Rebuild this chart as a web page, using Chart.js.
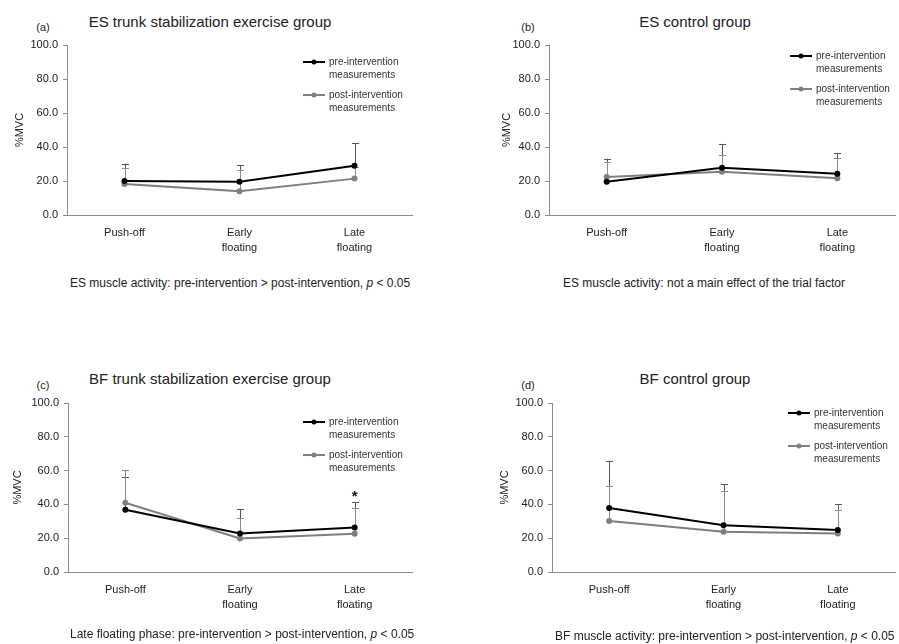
<!DOCTYPE html>
<html>
<head>
<meta charset="utf-8">
<script src="https://cdn.jsdelivr.net/npm/chart.js@4.4.1/dist/chart.umd.min.js"></script>
<style>
  body { margin: 0; background: #fff; font-family: "Liberation Sans", Arial, sans-serif; color: #222; }
  #page { position: relative; width: 899px; height: 644px; overflow: hidden; }
  canvas { position: absolute; }
  .title { position: absolute; font-size: 15px; white-space: nowrap; transform: translate(-50%, -50%); }
  .tag { position: absolute; font-size: 11px; transform: translate(-50%, -50%); }
  .note { position: absolute; font-size: 12px; white-space: nowrap; transform: translateY(-50%); }
</style>
</head>
<body>
<div id="page">
  <div class="tag" style="left:43px;top:27px">(a)</div>
  <div class="title" style="left:210px;top:21px">ES trunk stabilization exercise group</div>
  <div class="tag" style="left:528px;top:27px">(b)</div>
  <div class="title" style="left:695px;top:21px">ES control group</div>
  <div class="tag" style="left:43px;top:385px">(c)</div>
  <div class="title" style="left:210px;top:378px">BF trunk stabilization exercise group</div>
  <div class="tag" style="left:528px;top:385px">(d)</div>
  <div class="title" style="left:695px;top:378px">BF control group</div>

  <canvas id="es-ex" width="450" height="270" style="left:0;top:0"></canvas>
  <canvas id="es-ctl" width="449" height="270" style="left:450px;top:0"></canvas>
  <canvas id="bf-ex" width="450" height="270" style="left:0;top:358px"></canvas>
  <canvas id="bf-ctl" width="449" height="270" style="left:450px;top:358px"></canvas>

  <div class="note" style="left:70px;top:283px">ES muscle activity: pre-intervention &gt; post-intervention, <i>p</i> &lt; 0.05</div>
  <div class="note" style="left:563px;top:283px">ES muscle activity: not a main effect of the trial factor</div>
  <div class="note" style="left:70px;top:634px">Late floating phase: pre-intervention &gt; post-intervention, <i>p</i> &lt; 0.05</div>
  <div class="note" style="left:555px;top:636px">BF muscle activity: pre-intervention &gt; post-intervention, <i>p</i> &lt; 0.05</div>
</div>
<script>
const phases = ['Push-off', ['Early', 'floating'], ['Late', 'floating']];
const seriesNames = [['pre-intervention', 'measurements'], ['post-intervention', 'measurements']];

// ES, trunk stabilization exercise group
const esExPre = [20.0, 19.5, 29.0];
const esExPreSD = [10.2, 9.7, 13.2];
const esExPost = [18.2, 14.0, 21.4];
const esExPostSD = [9.6, 12.5, 7.0];

// ES, control group
const esCtlPre = [19.6, 27.8, 24.3];
const esCtlPreSD = [13.5, 14.0, 12.0];
const esCtlPost = [22.4, 25.5, 21.6];
const esCtlPostSD = [8.6, 9.8, 11.7];

// BF, trunk stabilization exercise group
const bfExPre = [36.8, 22.8, 26.4];
const bfExPreSD = [19.2, 14.2, 15.0];
const bfExPost = [41.0, 19.8, 22.6];
const bfExPostSD = [19.2, 11.9, 15.4];
const bfExSig = [false, false, true];

// BF, control group
const bfCtlPre = [37.9, 27.6, 24.8];
const bfCtlPreSD = [28.0, 24.4, 15.2];
const bfCtlPost = [30.2, 23.8, 22.8];
const bfCtlPostSD = [20.7, 24.1, 14.1];

const FONT = '"Liberation Sans", Arial, sans-serif';

// error bars (upper side only), drawn under the lines
const errorBars = {
  id: 'errorBars',
  beforeDatasetsDraw(chart) {
    const ctx = chart.ctx;
    const y = chart.scales.y;
    chart.data.datasets.forEach((ds, i) => {
      const meta = chart.getDatasetMeta(i);
      ctx.save();
      ctx.strokeStyle = ds.errColor;
      ctx.lineWidth = 1;
      meta.data.forEach((pt, j) => {
        const top = y.getPixelForValue(ds.data[j] + ds.sd[j]);
        const x = Math.round(pt.x) + 0.5;
        ctx.beginPath();
        ctx.moveTo(x, pt.y);
        ctx.lineTo(x, top);
        ctx.moveTo(x - 3.5, Math.round(top) + 0.5);
        ctx.lineTo(x + 3.5, Math.round(top) + 0.5);
        ctx.stroke();
      });
      ctx.restore();
    });
  },
  afterDatasetsDraw(chart, args, opts) {
    if (!opts.sig) return;
    const ctx = chart.ctx;
    const y = chart.scales.y;
    opts.sig.forEach((s, j) => {
      if (!s) return;
      let top = Infinity;
      chart.data.datasets.forEach((ds) => {
        top = Math.min(top, y.getPixelForValue(ds.data[j] + ds.sd[j]));
      });
      const x = chart.getDatasetMeta(0).data[j].x;
      ctx.save();
      ctx.fillStyle = '#111';
      ctx.font = 'bold 15px ' + FONT;
      ctx.textAlign = 'center';
      ctx.textBaseline = 'middle';
      ctx.fillText('*', x, top - 5);
      ctx.restore();
    });
  }
};

// two-line legend inside the plot
const boxLegend = {
  id: 'boxLegend',
  afterDraw(chart, args, opts) {
    const ctx = chart.ctx;
    chart.data.datasets.forEach((ds, i) => {
      const y0 = opts.y + i * 33;
      ctx.save();
      ctx.strokeStyle = ds.borderColor;
      ctx.lineWidth = 2;
      ctx.beginPath();
      ctx.moveTo(opts.x, y0);
      ctx.lineTo(opts.x + 22, y0);
      ctx.stroke();
      ctx.fillStyle = ds.pointBackgroundColor;
      ctx.beginPath();
      ctx.arc(opts.x + 11, y0, 2.5, 0, Math.PI * 2);
      ctx.fill();
      ctx.fillStyle = '#333';
      ctx.font = '10px ' + FONT;
      ctx.textBaseline = 'middle';
      seriesNames[i].forEach((t, k) => ctx.fillText(t, opts.x + 26, y0 + k * 13));
      ctx.restore();
    });
  }
};

function drawPanel(canvasID, pre, preSD, post, postSD, lay) {
  const ctx = document.getElementById(canvasID).getContext('2d');
  return new Chart(ctx, {
    type: 'line',
    data: {
      labels: phases,
      datasets: [{
        label: 'pre-intervention measurements',
        data: pre,
        sd: preSD,
        borderColor: '#000',
        pointBackgroundColor: '#000',
        pointBorderWidth: 0,
        errColor: '#555',
        borderWidth: 2,
        pointRadius: 3,
        tension: 0
      }, {
        label: 'post-intervention measurements',
        data: post,
        sd: postSD,
        borderColor: '#7f7f7f',
        pointBackgroundColor: '#7f7f7f',
        pointBorderWidth: 0,
        errColor: '#8c8c8c',
        borderWidth: 2,
        pointRadius: 3,
        tension: 0
      }]
    },
    options: {
      responsive: false,
      animation: false,
      devicePixelRatio: 1,
      layout: { padding: { left: 0, top: lay.top, right: lay.right, bottom: lay.bottom } },
      plugins: {
        legend: { display: false },
        tooltip: { enabled: false },
        boxLegend: { x: lay.legX, y: lay.legY },
        errorBars: { sig: lay.sig }
      },
      scales: {
        x: {
          offset: true,
          grid: { display: false, drawTicks: false },
          border: { display: true, color: '#8c8c8c', width: 1 },
          ticks: { color: '#222', font: { family: FONT, size: 11, lineHeight: 1.4 }, padding: 10, maxRotation: 0 },
          afterFit(s) { s.height = 50; }
        },
        y: {
          min: 0,
          max: 100,
          ticks: {
            stepSize: 20,
            color: '#222',
            padding: 5,
            font: { family: FONT, size: 11 },
            callback: (v) => v.toFixed(1)
          },
          grid: { display: true, drawOnChartArea: false, drawTicks: true, tickLength: 4, color: '#8c8c8c' },
          border: { display: true, color: '#8c8c8c', width: 1 },
          title: { display: true, text: '%MVC', color: '#222', font: { family: FONT, size: 11 }, padding: { top: lay.titlePad } },
          afterFit(s) { s.width = lay.axisW; }
        }
      }
    },
    plugins: [errorBars, boxLegend]
  });
}

drawPanel('es-ex', esExPre, esExPreSD, esExPost, esExPostSD,
  { top: 45, right: 38, bottom: 5, axisW: 67, titlePad: 13, legX: 303, legY: 62 });
drawPanel('es-ctl', esCtlPre, esCtlPreSD, esCtlPost, esCtlPostSD,
  { top: 45, right: 2, bottom: 5, axisW: 99, titlePad: 50, legX: 340, legY: 56 });
drawPanel('bf-ex', bfExPre, bfExPreSD, bfExPost, bfExPostSD,
  { top: 45, right: 38, bottom: 6, axisW: 68, titlePad: 11, legX: 303, legY: 64, sig: bfExSig });
drawPanel('bf-ctl', bfCtlPre, bfCtlPreSD, bfCtlPost, bfCtlPostSD,
  { top: 45, right: 2, bottom: 6, axisW: 102, titlePad: 48, legX: 338, legY: 55 });
</script>
</body>
</html>
